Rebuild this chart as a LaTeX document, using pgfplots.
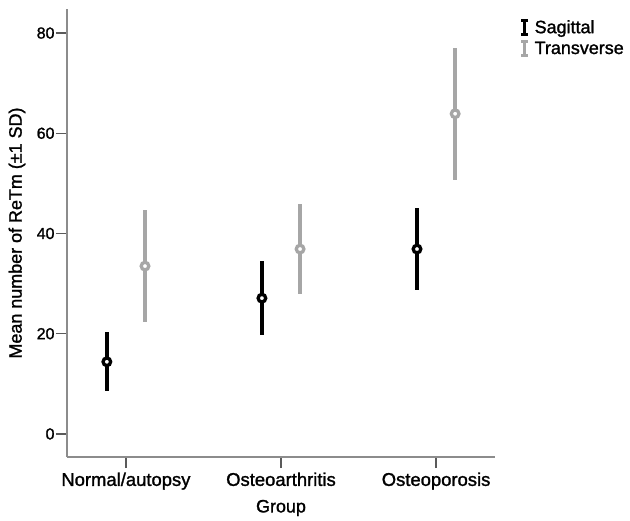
\documentclass[border=0pt]{standalone}
\usepackage{pgfplots}
\pgfplotsset{compat=1.18}
\usepackage{pgfplotstable}
\usepackage{fontspec}
\setmainfont{Liberation Sans}[FakeBold=1.4]
\definecolor{trans}{RGB}{166,166,166}
\definecolor{axisgray}{RGB}{140,140,140}
\definecolor{tickgray}{RGB}{90,90,90}

\pgfplotstableread{
x y e
-0.123 14.4 5.9
0.877 27.1 7.35
1.877 36.9 8.2
}\sag
\pgfplotstableread{
x y e
0.123 33.5 11.15
1.123 36.9 9.0
2.123 63.9 13.15
}\tra

\begin{document}
\begin{tikzpicture}
\useasboundingbox (-67bp,-64bp) rectangle (563bp,457bp);
\begin{axis}[
  at={(0,0)}, anchor=south west,
  scale only axis, width=428bp, height=448bp,
  xmin=-0.38, xmax=2.38, ymin=-4.6, ymax=84.8,
  axis x line*=bottom, axis y line*=left,
  axis line style={axisgray, line width=1.3bp, -},
  tick align=outside, major tick length=11bp,
  tick style={tickgray, line width=1.2bp},
  xtick={0,1,2},
  xticklabels={Normal/autopsy, Osteoarthritis, Osteoporosis},
  ytick={0,20,40,60,80},
  ticklabel style={font=\fontsize{16}{19}\selectfont},
  yticklabel style={xshift=2bp},
  xticklabel style={yshift=-1bp, font=\fontsize{18.5}{21}\selectfont},
  /pgf/number format/assume math mode=true,
  ylabel={Mean number of ReTm (±1 SD)},
  xlabel={Group},
  label style={font=\fontsize{18}{21}\selectfont},
  ylabel style={at={([xshift=-50bp]axis description cs:0,0.5)}, anchor=center},
  xlabel style={at={([yshift=-51bp]axis description cs:0.5,0)}, anchor=center},
  legend style={draw=none, fill=none, at={(1,1)}, anchor=north west,
    xshift=25bp, yshift=-9bp, font=\fontsize{18}{21}\selectfont,
    row sep=3bp, inner sep=0pt, cells={anchor=west}},
]
\addplot[forget plot, black, only marks, mark=none,
  error bars/.cd, y dir=both, y explicit,
  error bar style={black, line width=3.3bp}, error mark=none]
  table[x=x, y=y, y error=e] {\sag};
\addplot[forget plot, trans, only marks, mark=none,
  error bars/.cd, y dir=both, y explicit,
  error bar style={trans, line width=3.3bp}, error mark=none]
  table[x=x, y=y, y error=e] {\tra};
\addplot[forget plot, black, only marks, mark=*, mark size=3.8bp,
  mark options={fill=white, draw=black, line width=3.3bp}]
  table[x=x, y=y] {\sag};
\addplot[forget plot, trans, only marks, mark=*, mark size=3.8bp,
  mark options={fill=white, draw=trans, line width=3.3bp}]
  table[x=x, y=y] {\tra};
\addlegendimage{legend image code/.code={
  \path (0,0) (12bp,0);
  \draw[black,line width=3bp] (4bp,-7bp)--(4bp,7bp);
  \draw[black,line width=2.2bp] (0.8bp,-7bp)--(7.2bp,-7bp) (0.8bp,7bp)--(7.2bp,7bp);}}
\addlegendentry{Sagittal}
\addlegendimage{legend image code/.code={
  \path (0,0) (12bp,0);
  \draw[trans,line width=3bp] (4bp,-7bp)--(4bp,7bp);
  \draw[trans,line width=2.2bp] (0.8bp,-7bp)--(7.2bp,-7bp) (0.8bp,7bp)--(7.2bp,7bp);}}
\addlegendentry{Transverse}
\end{axis}
\end{tikzpicture}
\end{document}
